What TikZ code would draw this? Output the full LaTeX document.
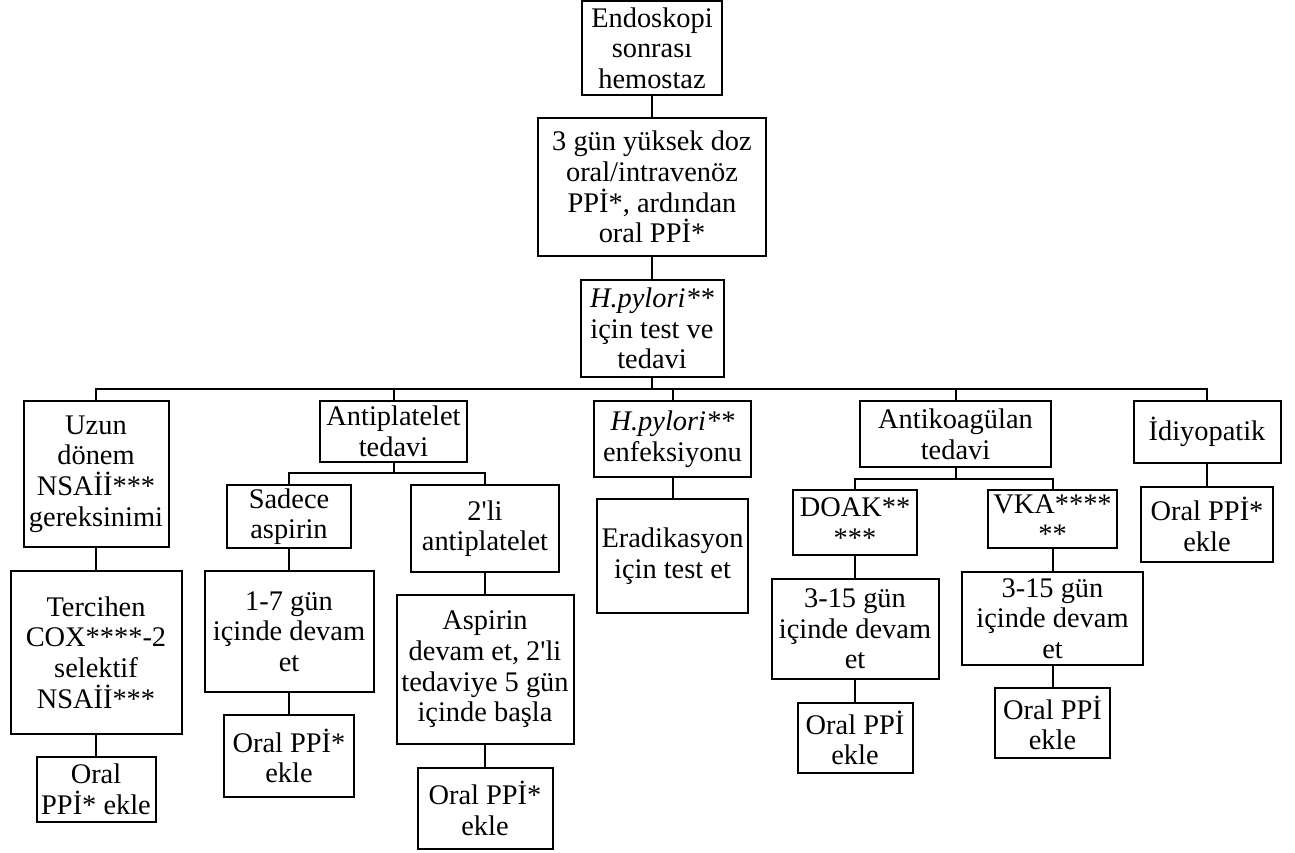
\documentclass[tikz,border=0pt]{standalone}
\usepackage{fontspec}
\setmainfont{Liberation Serif}[Ligatures=TeXOff]
\usetikzlibrary{positioning}

\begin{document}
\begin{tikzpicture}[
    x=0.5pt, y=-0.5pt,
    box/.style={draw, line width=1pt, align=center, inner xsep=1pt, inner ysep=0pt,
      font=\fontsize{14.2}{15.3}\selectfont},
    wh/.style 2 args={minimum width=#1*0.5pt, minimum height=#2*0.5pt},
    link/.style={line width=1pt},
  ]
  \useasboundingbox (0,0) rectangle (1295,852);

  % Main line
  \node[box, wh={140}{94}] (endo) at (652,48) {Endoskopi\\sonrası\\hemostaz};
  \node[box, wh={228}{138}] (ppi) at (652,187) {3 gün yüksek doz\\oral/intravenöz\\PPİ*, ardından\\oral PPİ*};
  \node[box, wh={143}{97}] (hp) at (652,328.5) {\textit{H.pylori**}\\için test ve\\tedavi};

  % Branches
  \node[box, wh={145}{146}] (uzun) at (96,474) {Uzun\\dönem\\NSAİİ***\\gereksinimi};
  \node[box, wh={171}{163}] (tercih) at (96,652.5) {Tercihen\\COX****-2\\selektif\\NSAİİ***};
  \node[box, wh={119}{65}] (oral1) at (96,789.5) {Oral\\PPİ* ekle};

  \node[box, wh={147}{61}] (antip) at (393.5,431.5) {Antiplatelet\\tedavi};
  \node[box, wh={124}{63}] (sadece) at (289,516.5) {Sadece\\aspirin};
  \node[box, wh={169}{121}] (gun17) at (289,631.5) {1-7 gün\\içinde devam\\et};
  \node[box, wh={130}{82}] (oral2) at (289,756) {Oral PPİ*\\ekle};
  \node[box, wh={148}{87}] (ikili) at (485,528.5) {2'li\\antiplatelet};
  \node[box, wh={177}{149}] (aspdevam) at (485,669.5) {Aspirin\\devam et, 2'li\\tedaviye 5 gün\\içinde başla};
  \node[box, wh={135}{81}] (oral3) at (485,808.5) {Oral PPİ*\\ekle};

  \node[box, wh={157}{76}] (hpenf) at (672.5,439) {\textit{H.pylori**}\\enfeksiyonu};
  \node[box, wh={151}{114}] (erad) at (672.5,556) {Eradikasyon\\için test et};

  \node[box, wh={191}{66}] (antik) at (955.5,434) {Antikoagülan\\tedavi};
  \node[box, wh={124}{65}] (doak) at (855,522.5) {DOAK**\\***};
  \node[box, wh={167}{100}] (gun315a) at (855,629) {3-15 gün\\içinde devam\\et};
  \node[box, wh={115}{70}] (oral4) at (855,738) {Oral PPİ\\ekle};
  \node[box, wh={129}{58}] (vka) at (1052.5,519) {VKA****\\**};
  \node[box, wh={181}{93}] (gun315b) at (1052.5,618.5) {3-15 gün\\içinde devam\\et};
  \node[box, wh={115}{70}] (oral5) at (1052.5,723) {Oral PPİ\\ekle};

  \node[box, wh={147}{62}] (idio) at (1207,432) {İdiyopatik};
  \node[box, wh={132}{75}] (oral6) at (1207,524.5) {Oral PPİ*\\ekle};

  % Bus points
  \coordinate (bus) at (652,389);
  \coordinate (apbus) at (393.5,473);
  \coordinate (akbus) at (955.5,479);

  % Connectors
  \draw[link] (endo) -- (ppi);
  \draw[link] (ppi) -- (hp);
  \draw[link] (hp) -- (bus);
  \draw[link] (uzun) |- (bus) -| (idio);
  \draw[link] (bus -| antip) -- (antip);
  \draw[link] (bus -| hpenf) -- (hpenf);
  \draw[link] (bus -| antik) -- (antik);
  \draw[link] (uzun) -- (tercih);
  \draw[link] (tercih) -- (oral1);
  \draw[link] (antip) -- (apbus);
  \draw[link] (sadece) |- (apbus) -| (ikili);
  \draw[link] (sadece) -- (gun17);
  \draw[link] (gun17) -- (oral2);
  \draw[link] (ikili) -- (aspdevam);
  \draw[link] (aspdevam) -- (oral3);
  \draw[link] (hpenf) -- (erad);
  \draw[link] (antik) -- (akbus);
  \draw[link] (doak) |- (akbus) -| (vka);
  \draw[link] (doak) -- (gun315a);
  \draw[link] (gun315a) -- (oral4);
  \draw[link] (vka) -- (gun315b);
  \draw[link] (gun315b) -- (oral5);
  \draw[link] (idio) -- (oral6);
\end{tikzpicture}
\end{document}
